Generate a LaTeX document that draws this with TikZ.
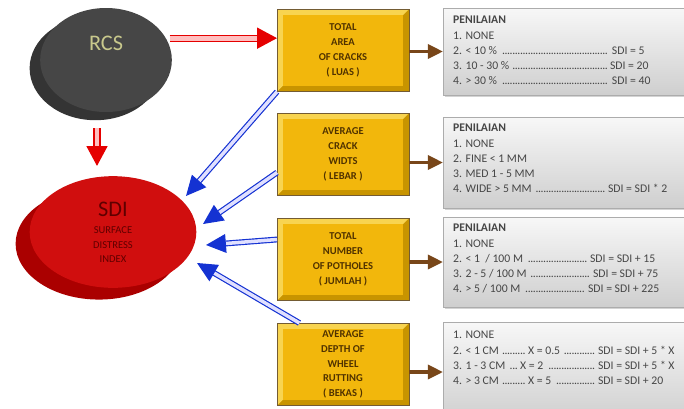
\documentclass[tikz,border=0pt]{standalone}
\usepackage{fontspec}
\setmainfont{Carlito}
\usetikzlibrary{shapes.geometric,arrows.meta,positioning,calc,shadows}
\definecolor{rcsgray}{RGB}{70,70,70}
\definecolor{rcsside}{RGB}{52,52,52}
\definecolor{rcstext}{RGB}{200,200,140}
\definecolor{sdired}{RGB}{208,14,14}
\definecolor{sdiside}{RGB}{170,0,0}
\definecolor{sditext}{RGB}{95,0,0}
\definecolor{goldface}{RGB}{242,183,12}
\definecolor{goldedge}{RGB}{200,148,0}
\definecolor{goldlight}{RGB}{248,212,80}
\definecolor{goldtext}{RGB}{80,50,0}
\definecolor{penblue}{RGB}{20,50,210}
\definecolor{arrowbrown}{RGB}{120,70,25}
\definecolor{notegray}{RGB}{70,70,70}
\newcommand{\dotsto}[2]{\makebox[#1][l]{#2\leaders\hbox to 2.2pt{\hss.\hss}\hfill}}

\begin{document}
\begin{tikzpicture}[x=0.03cm, y=-0.03cm,
  factor/.style={draw=goldtext!80, fill=goldedge, minimum width=3.96cm, minimum height=2.48cm,
    anchor=north west, outer sep=0pt, text=goldtext, align=center,
    font=\fontsize{9}{12.75}\selectfont\bfseries,
    path picture={
      \fill[goldlight] (path picture bounding box.north west) -- (path picture bounding box.north east)
        -- ([shift={(-5pt,-5pt)}]path picture bounding box.north east) -- ([shift={(5pt,-5pt)}]path picture bounding box.north west)
        -- ([shift={(5pt,5pt)}]path picture bounding box.south west) -- (path picture bounding box.south west) -- cycle;
      \fill[goldface] ([shift={(5pt,-5pt)}]path picture bounding box.north west) rectangle ([shift={(-5pt,5pt)}]path picture bounding box.south east);
    }},
  note/.style={draw=gray!65, top color=gray!6, bottom color=gray!38, minimum width=7.8cm,
    anchor=north west, outer sep=0pt, drop shadow={shadow xshift=1.5pt, shadow yshift=-1.5pt, opacity=0.35}},
  notetext/.style={anchor=north west, inner sep=0pt, align=left, text=notegray, font=\fontsize{10}{13}\selectfont},
  redarrow/.style={draw=red!90!black, double=red!25, double distance=4pt, line width=1.1pt, -{Triangle[length=17pt,width=18pt]}},
  bluearrow/.style={draw=penblue, double=blue!12, double distance=3pt, line width=1pt, -{Triangle[length=17pt,width=16pt]}},
  brownarrow/.style={draw=arrowbrown, line width=3pt, -{Triangle[length=13pt,width=12pt]}}]
  \useasboundingbox (0,0) rectangle (684,408);

  % ellipses
  \node[ellipse, fill=rcsgray, minimum width=3.95cm, minimum height=3.12cm,
    general shadow={fill=rcsside, shadow xshift=-9pt, shadow yshift=-7pt}] (rcs) at (106,60) {};
  \node[text=rcstext, font=\fontsize{19}{19}\selectfont] (rcslabel) at ([yshift=14pt]rcs.center) {RCS};
  \node[ellipse, fill=sdired, minimum width=5.0cm, minimum height=3.35cm, text=sditext, align=center,
    general shadow={fill=sdiside, shadow xshift=-12pt, shadow yshift=-10pt}] (sdi) at (113,232)
    {{\fontsize{19}{19}\selectfont SDI}\\[3pt]{\fontsize{9}{12}\selectfont SURFACE}\\{\fontsize{9}{12}\selectfont DISTRESS}\\{\fontsize{9}{12}\selectfont INDEX}};

  % factor boxes
  \node[factor] (y1) at (277,9) {TOTAL\\AREA\\OF CRACKS\\( LUAS )};
  \node[factor] (y2) at (277,113) {AVERAGE\\CRACK\\WIDTS\\( LEBAR )};
  \node[factor] (y3) at (277,218) {TOTAL\\NUMBER\\OF POTHOLES\\( JUMLAH )};
  \node[factor] (y4) at (277,323) {AVERAGE\\DEPTH OF\\WHEEL\\RUTTING\\( BEKAS )};

  % penilaian boxes
  \node[note, minimum height=2.61cm] (g1) at (443,8) {};
  \node[note, minimum height=2.73cm] (g2) at (443,117) {};
  \node[note, minimum height=2.70cm] (g3) at (443,217) {};
  \node[note, minimum height=3.00cm] (g4) at (443,322) {};

  \node[notetext] (p1) at (453,16) {\textbf{PENILAIAN}\\1. NONE\\
    \dotsto{4.71cm}{2. < 10 \%~}\,SDI = 5\\
    \dotsto{4.65cm}{3. 10 - 30 \%~}\,SDI = 20\\
    \dotsto{4.71cm}{4. > 30 \%~}\,SDI = 40};
  \node[notetext] (p2) at (453,124) {\textbf{PENILAIAN}\\1. NONE\\2. FINE < 1 MM\\3. MED 1 - 5 MM\\
    \dotsto{4.59cm}{4. WIDE > 5 MM~}\,SDI = SDI * 2};
  \node[notetext] (p3) at (453,224) {\textbf{PENILAIAN}\\1. NONE\\
    \dotsto{4.05cm}{2. < 1~ / 100 M~}\,SDI = SDI + 15\\
    \dotsto{4.14cm}{3. 2 - 5 / 100 M~}\,SDI = SDI + 75\\
    \dotsto{3.99cm}{4. > 5 / 100 M~}\,SDI = SDI + 225};
  \node[notetext] (p4) at (453,331) {1. NONE\\
    \dotsto{4.29cm}{\dotsto{2.19cm}{2. < 1 CM~}\,X = 0.5~}\,SDI = SDI + 5 * X\\
    \dotsto{4.29cm}{\dotsto{2.01cm}{3. 1 - 3 CM~}X = 2~}\,SDI = SDI + 5 * X\\
    \dotsto{4.29cm}{\dotsto{2.19cm}{4. > 3 CM~}\,X = 5~}\,SDI = SDI + 20};

  % connectors
  \draw[redarrow, shorten <=3pt] (rcs.20) -- (rcs.20 -| y1.west);
  \draw[redarrow] ($(rcs.south)+(-9,16)$) -- ($(rcs.south |- sdi.north)+(-9,-10)$);

  \coordinate (s1) at (186,196);
  \coordinate (s2) at (203,224);
  \coordinate (s3) at (206,245);
  \coordinate (s4) at (197,263);
  \draw[bluearrow] (y1.south west) -- (s1);
  \draw[bluearrow] ($(y2.north west)!0.72!(y2.south west)$) -- (s2);
  \draw[bluearrow] ($(y3.north west)!0.26!(y3.south west)$) -- (s3);
  \draw[bluearrow] ($(y4.north west)!0.17!(y4.north east)$) -- (s4);

  \foreach \i in {1,...,4}
    \draw[brownarrow] (y\i.east |- g\i.west) -- (g\i.west);
\end{tikzpicture}
\end{document}
